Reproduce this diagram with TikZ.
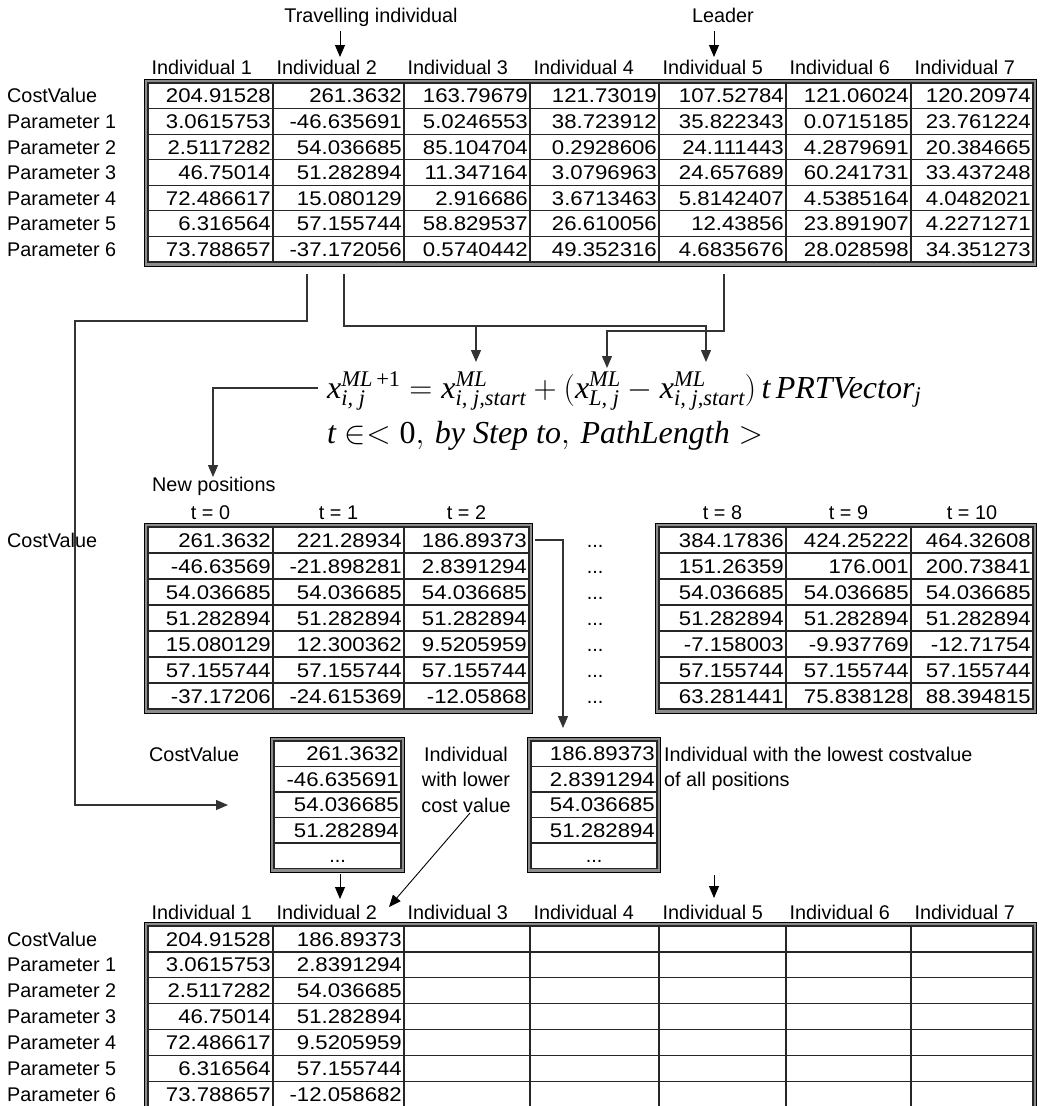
\RequirePackage{fix-cm}
\documentclass[tikz,border=0pt]{standalone}
\usepackage[no-math]{fontspec}
\usepackage{amsmath}
\setmainfont{Liberation Sans}
\newfontfamily\numfont[FakeStretch=1.12]{Liberation Sans}
\newfontfamily\tms{Liberation Serif}
\usetikzlibrary{arrows.meta}

% italic Times-like letters inside formulas
\newcommand\ti[1]{\text{\tms\itshape #1}}

% framed spreadsheet block: name, inner x0, y0, x1, y1, inner column lines, rows
\newcommand\gridtable[7]{%
  \fill[framefill, even odd rule] ({#2-3.5},{#3-4}) rectangle ({#4+3.5},{#5+4}) (#2,#3) rectangle (#4,#5);
  \node[tframe, minimum width={#4-#2+7}, minimum height={#5-#3+8}] (#1) at ({(#2+#4)/2},{(#3+#5)/2}) {};
  \draw[gridline] (#2,#3) rectangle (#4,#5);
  \foreach \cx in {#6} {\draw[gridline] (\cx,#3) -- (\cx,#5);}
  \pgfmathsetmacro\rh{(#5-#3)/#7}
  \foreach \ri in {1,...,#7} {\draw[gridline] (#2,{#3+\ri*\rh}) -- (#4,{#3+\ri*\rh});}
}

\begin{document}
\begin{tikzpicture}[x=1pt,y=-1pt,
  txt/.style={inner sep=0pt, text height=14.2pt, text depth=0pt, font=\fontsize{19.8}{22}\selectfont},
  lbl/.style={txt, anchor=west},
  ctr/.style={txt, anchor=center},
  num/.style={txt, anchor=east, font=\numfont\fontsize{19.8}{22}\selectfont},
  framefill/.style={fill=black!45},
  tframe/.style={draw=black, line width=.8pt, inner sep=0pt, fill=none},
  gridline/.style={draw=black!85, line width=1.2pt},
  conn/.style={draw=black!80, line width=1.2pt},
  arr/.style={conn, -{Triangle[length=12pt,width=10pt]}},
  tip/.style={draw=black, line width=.9pt, -{Triangle[length=12pt,width=10pt]}},
  formula/.style={anchor=base west, inner sep=0pt, font=\fontsize{32}{38}\selectfont}
]
\useasboundingbox (0,0) rectangle (1042,1106);

% ---------- current population ----------
\node[ctr] (trav) at (371,15) {Travelling individual};
\node[ctr] (lead) at (723,15) {Leader};
\coordinate (travA) at (340,31); \coordinate (travB) at (340,57);
\coordinate (leadA) at (714,31); \coordinate (leadB) at (714,57);
\draw[tip] (travA) -- (travB);
\draw[tip] (leadA) -- (leadB);

\foreach \cx [count=\k] in {148,273,404,530,659,786,911}
  \node[lbl] (hdtop\k) at (\cx+3.5,67) {Individual \k};

\gridtable{pop}{148}{83}{1033}{262}{273,404,530,659,786,911}{7}

\foreach \t [count=\r] in {CostValue,Parameter 1,Parameter 2,Parameter 3,Parameter 4,Parameter 5,Parameter 6}
  \node[lbl] (rowtop\r) at (7,{83+25.57*(\r-0.5)}) {\t};

\foreach \xr/\vals [count=\k] in {
  273/{204.91528,3.0615753,2.5117282,46.75014,72.486617,6.316564,73.788657},
  404/{261.3632,-46.635691,54.036685,51.282894,15.080129,57.155744,-37.172056},
  530/{163.79679,5.0246553,85.104704,11.347164,2.916686,58.829537,0.5740442},
  659/{121.73019,38.723912,0.2928606,3.0796963,3.6713463,26.610056,49.352316},
  786/{107.52784,35.822343,24.111443,24.657689,5.8142407,12.43856,4.6835676},
  911/{121.06024,0.0715185,4.2879691,60.241731,4.5385164,23.891907,28.028598},
  1033/{120.20974,23.761224,20.384665,33.437248,4.0482021,4.2271271,34.351273}}
  \foreach \v [count=\r] in \vals
    \node[num] (pop-\k-\r) at (\xr-2,{83+25.57*(\r-0.5)}) {\v};

% ---------- update rule ----------
\node[formula] (eqA) at (327,398)
  {$\ti{x}^{\ti{ML}\,\text{\tms +1}}_{\ti{i, j}} = \ti{x}^{\ti{ML}}_{\ti{i, j,start}}
    + (\ti{x}^{\ti{ML}}_{\ti{L, j}} - \ti{x}^{\ti{ML}}_{\ti{i, j,start}})\,\ti{t}\,\ti{PRTVector}_{\ti{j}}$};
\node[formula] (eqB) at (327,443)
  {$\ti{t}\in<\text{\tms 0},\,\ti{by Step to},\,\ti{PathLength}>$};

% connectors from the population to the rule
\coordinate (a0) at (307,274); \coordinate (a1) at (307,321);
\coordinate (a2) at (75,321);   \coordinate (a3) at (75,805);
\coordinate (a4) at (228,805);
\draw[arr] (a0) -- (a1) -- (a2) -- (a3) -- (a4);

\coordinate (b0) at (344,274); \coordinate (b1) at (344,326);
\coordinate (b2) at (706,326); \coordinate (b3) at (706,362);
\coordinate (b4) at (476,326); \coordinate (b5) at (476,362);
\draw[arr] (b0) -- (b1) -- (b2) -- (b3);
\draw[arr] (b4) -- (b5);

\coordinate (c0) at (724,274); \coordinate (c1) at (724,331);
\coordinate (c2) at (607,331); \coordinate (c3) at (607,368);
\draw[arr] (c0) -- (c1) -- (c2) -- (c3);

\coordinate (n0) at (318,388); \coordinate (n1) at (213,388); \coordinate (n2) at (213,477);
\draw[arr] (n0) -- (n1) -- (n2);

% ---------- positions along the path ----------
\node[lbl, text depth=4pt] (newpos) at (152,486) {New positions};
\node[lbl] (cvmid) at (7,540) {CostValue};

\gridtable{pathA}{148}{527}{529}{709}{273,404}{7}
\gridtable{pathB}{659}{527}{1033}{709}{786,911}{7}

\foreach \cx/\t in {210.5/0,338.5/1,466.5/2,722.5/8,848.5/9,972/10}
  \node[ctr] (th\t) at (\cx,512) {t = \t};

\foreach \xr/\vals [count=\k] in {
  273/{261.3632,-46.63569,54.036685,51.282894,15.080129,57.155744,-37.17206},
  404/{221.28934,-21.898281,54.036685,51.282894,12.300362,57.155744,-24.615369},
  529/{186.89373,2.8391294,54.036685,51.282894,9.5205959,57.155744,-12.05868},
  786/{384.17836,151.26359,54.036685,51.282894,-7.158003,57.155744,63.281441},
  911/{424.25222,176.001,54.036685,51.282894,-9.937769,57.155744,75.838128},
  1033/{464.32608,200.73841,54.036685,51.282894,-12.71754,57.155744,88.394815}}
  \foreach \v [count=\r] in \vals
    \node[num] (path-\k-\r) at (\xr-2,{527+26*(\r-0.5)}) {\v};

\foreach \r in {1,...,7}
  \node[ctr] (gap\r) at (595,{527+26*(\r-0.5)}) {...};

% best position goes down to the comparison
\coordinate (d0) at (535,540); \coordinate (d1) at (563,540); \coordinate (d2) at (563,728);
\draw[arr] (d0) -- (d1) -- (d2);

% ---------- comparison ----------
\node[lbl] (cvsmall) at (149,754) {CostValue};
\gridtable{oldind}{274}{741}{401}{868.5}{274}{5}
\gridtable{bestind}{531}{741}{657}{868.5}{531}{5}

\foreach \v [count=\r] in {261.3632,-46.635691,54.036685,51.282894}
  \node[num] (old-\r) at (399,{741+25.5*(\r-0.5)}) {\v};
\node[ctr] (old-5) at (337.5,{741+25.5*4.5}) {...};
\foreach \v [count=\r] in {186.89373,2.8391294,54.036685,51.282894}
  \node[num] (best-\r) at (655,{741+25.5*(\r-0.5)}) {\v};
\node[ctr] (best-5) at (594,{741+25.5*4.5}) {...};

\node[ctr] (lowA) at (466,754) {Individual};
\node[ctr] (lowB) at (466,779.5) {with lower};
\node[ctr] (lowC) at (466,805) {cost value};
\node[lbl] (lowestA) at (664,754) {Individual with the lowest costvalue};
\node[lbl] (lowestB) at (664,779.5) {of all positions};

\coordinate (e0) at (340,874); \coordinate (e1) at (340,899);
\draw[tip] (e0) -- (e1);
\coordinate (f0) at (714,875); \coordinate (f1) at (714,898);
\draw[tip] (f0) -- (f1);
\coordinate (g0) at (470,813); \coordinate (g1) at (389,907);
\draw[tip] (g0) -- (g1);

% ---------- next population ----------
\foreach \cx [count=\k] in {148,273,404,530,659,786,911}
  \node[lbl] (hdbot\k) at (\cx+3.5,912) {Individual \k};

\gridtable{nextpop}{148}{926}{1033}{1133.2}{273,404,530,659,786,911}{8}

\foreach \t [count=\r] in {CostValue,Parameter 1,Parameter 2,Parameter 3,Parameter 4,Parameter 5,Parameter 6}
  \node[lbl] (rowbot\r) at (7,{926+25.9*(\r-0.5)}) {\t};

\foreach \xr/\vals [count=\k] in {
  273/{204.91528,3.0615753,2.5117282,46.75014,72.486617,6.316564,73.788657},
  404/{186.89373,2.8391294,54.036685,51.282894,9.5205959,57.155744,-12.058682}}
  \foreach \v [count=\r] in \vals
    \node[num] (next-\k-\r) at (\xr-2,{926+25.9*(\r-0.5)}) {\v};
\end{tikzpicture}
\end{document}
